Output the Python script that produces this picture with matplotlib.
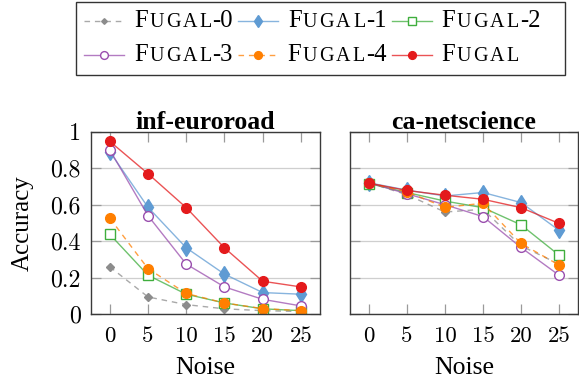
import matplotlib
matplotlib.use('Agg')
import matplotlib.pyplot as plt
from matplotlib.colors import to_rgba
from matplotlib.lines import Line2D
from matplotlib.offsetbox import DrawingArea, TextArea, HPacker, VPacker, AnchoredOffsetbox

plt.rcParams['font.family'] = ['Liberation Serif', 'DejaVu Serif']

# ---------------- data ----------------
noise = [0, 5, 10, 15, 20, 25]
xtick_labels = ['0', '5', '10', '15', '20', '25']
yticks = [0, 0.2, 0.4, 0.6, 0.8, 1.0]
ytick_labels = ['0', '0.2', '0.4', '0.6', '0.8', '1']
datasets = ['inf-euroroad', 'ca-netscience']
methods = ['Fugal-0', 'Fugal-1', 'Fugal-2', 'Fugal-3', 'Fugal-4', 'Fugal']

euroroad_fugal0 = [0.26, 0.095, 0.053, 0.03, 0.02, 0.015]
euroroad_fugal1 = [0.89, 0.586, 0.364, 0.22, 0.119, 0.11]
euroroad_fugal2 = [0.438, 0.214, 0.11, 0.062, 0.03, 0.02]
euroroad_fugal3 = [0.90, 0.54, 0.275, 0.15, 0.082, 0.046]
euroroad_fugal4 = [0.526, 0.25, 0.114, 0.062, 0.031, 0.02]
euroroad_fugal = [0.947, 0.77, 0.584, 0.364, 0.181, 0.15]

netsci_fugal0 = [0.72, 0.655, 0.56, 0.575, 0.375, 0.275]
netsci_fugal1 = [0.72, 0.68, 0.648, 0.667, 0.612, 0.46]
netsci_fugal2 = [0.716, 0.667, 0.62, 0.584, 0.49, 0.324]
netsci_fugal3 = [0.72, 0.66, 0.60, 0.535, 0.366, 0.214]
netsci_fugal4 = [0.72, 0.67, 0.586, 0.608, 0.388, 0.27]
netsci_fugal = [0.718, 0.678, 0.652, 0.63, 0.584, 0.498]

series = {
    'inf-euroroad': [euroroad_fugal0, euroroad_fugal1, euroroad_fugal2,
                     euroroad_fugal3, euroroad_fugal4, euroroad_fugal],
    'ca-netscience': [netsci_fugal0, netsci_fugal1, netsci_fugal2,
                      netsci_fugal3, netsci_fugal4, netsci_fugal],
}

# ---------------- styles ----------------
styles = [
    dict(color='#8c8c8c', ls=(0, (4, 3.5)), marker='D', ms=3.6, filled=True),
    dict(color='#5f9bd3', ls='-', marker='d', ms=8.0, filled=True),
    dict(color='#3fae3d', ls='-', marker='s', ms=6.5, filled=False),
    dict(color='#9a4fae', ls='-', marker='o', ms=7.0, filled=False),
    dict(color='#ff7f00', ls=(0, (4, 3.5)), marker='o', ms=7.0, filled=True),
    dict(color='#e41a1c', ls='-', marker='o', ms=7.0, filled=True),
]
LINE_ALPHA = 0.75

def line_kwargs(st, scale=1.0):
    c = st['color']
    return dict(color=to_rgba(c, LINE_ALPHA), ls=st['ls'], lw=1.0,
                marker=st['marker'], ms=st['ms'] * scale,
                mfc=c if st['filled'] else 'white', mec=c, mew=1.0)

W, H = 579, 379
fig = plt.figure(figsize=(W / 100, H / 100), dpi=100)

axes_px = [(90.7, 320.0), (350.0, 578.0)]
top_px, bot_px = 131.7, 314.3
axs = []
for i, name in enumerate(datasets):
    x0, x1 = axes_px[i]
    ax = fig.add_axes([x0 / W, 1 - bot_px / H, (x1 - x0) / W, (bot_px - top_px) / H])
    axs.append(ax)
    for vals, st in zip(series[name], styles):
        ax.plot(noise, vals, **line_kwargs(st))
    ax.set_xlim(-2.5, 27.5)
    ax.set_ylim(0, 1)
    ax.set_xticks(noise, labels=xtick_labels, fontfamily='cmr10', fontsize=16.5)
    if i == 0:
        ax.set_yticks(yticks, labels=ytick_labels, fontfamily='cmr10', fontsize=17.2)
    else:
        ax.set_yticks(yticks, labels=[])
    ax.tick_params(direction='in', length=7.5, width=0.9, color='#9a9a9a',
                   top=True, right=True)
    ax.tick_params(axis='x', pad=8.5)
    ax.tick_params(axis='y', pad=7)
    ax.yaxis.grid(True, color='#cfcfcf', lw=0.9)
    ax.set_axisbelow(True)
    for sp in ax.spines.values():
        sp.set_color('#3a3a3a')
        sp.set_linewidth(1.0)
    ax.set_title(name, fontweight='bold', fontsize=18.5, pad=2)
    ax.set_xlabel('Noise', fontsize=18.5, labelpad=8)

axs[0].set_ylabel('Accuracy', fontsize=18)
axs[0].yaxis.set_label_coords(-0.25, 0.5)

# ---------------- legend with small caps ----------------
big = dict(family='Liberation Serif', size=17.8, color='black')
small = dict(family='Liberation Serif', size=14.4, color='black')

def make_label(name):
    parts = name.split('-')
    word = parts[0].upper()
    kids = [TextArea(word[0], textprops=big),
            HPacker(children=[TextArea(c, textprops=small) for c in word[1:]],
                    align='baseline', pad=0, sep=1.6)]
    if len(parts) > 1:
        kids.append(TextArea('-' + parts[1], textprops=big))
    return HPacker(children=kids, align='baseline', pad=0, sep=0.8)

def make_entry(name, st):
    da = DrawingArea(28.8, 10, 0, 0)
    kw = line_kwargs(st, scale=0.8)
    da.add_artist(Line2D([0, 28.8], [4.6, 4.6], color=kw['color'], ls=kw['ls'], lw=1.0))
    da.add_artist(Line2D([14.4], [4.6], ls='none', marker=kw['marker'], ms=kw['ms'],
                         mfc=kw['mfc'], mec=kw['mec'], mew=1.0))
    return HPacker(children=[da, make_label(name)], align='baseline', pad=0, sep=7.0)

entries = [make_entry(n, s) for n, s in zip(methods, styles)]
row1 = HPacker(children=entries[:3] + [DrawingArea(8, 1, 0, 0)], align='baseline', pad=0, sep=3.6)
row2 = HPacker(children=entries[3:], align='baseline', pad=0, sep=3.6)
vp = VPacker(children=[row1, row2], align='left', pad=0, sep=8.5)
box = AnchoredOffsetbox(loc='upper center', child=vp, pad=0.62, borderpad=0,
                        frameon=True, bbox_to_anchor=(320.5 / W, 1 - 1.5 / H),
                        bbox_transform=fig.transFigure)
box.patch.set_edgecolor('#333333')
box.patch.set_linewidth(1.0)
fig.add_artist(box)

fig.savefig('out.png', dpi=100)
